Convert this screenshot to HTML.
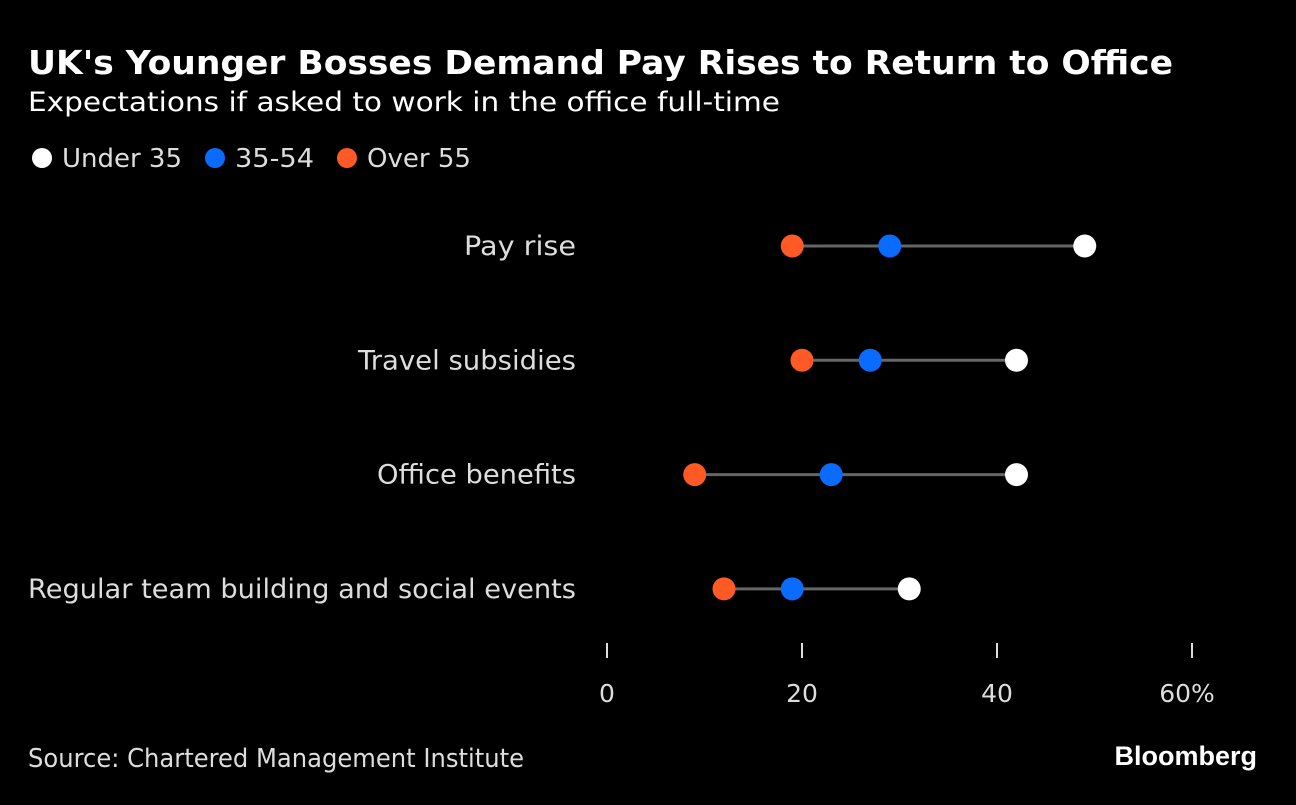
<!DOCTYPE html>
<html><head><meta charset="utf-8"><style>
body{margin:0;background:#000;width:1296px;height:800px;overflow:hidden;}
svg text{font-family:"DejaVu Sans","Liberation Sans",sans-serif;}
</style></head><body>
<svg id="chart" width="1296" height="800">
<text x="28" y="74" fill="#fff" font-size="33" font-weight="bold" textLength="1145" lengthAdjust="spacingAndGlyphs">UK's Younger Bosses Demand Pay Rises to Return to Office</text>
<text x="28" y="111" fill="#fff" font-size="27" textLength="752" lengthAdjust="spacingAndGlyphs">Expectations if asked to work in the office full-time</text>
<g>
<circle cx="42" cy="158" r="10" fill="#fff"/>
<text x="62" y="167" fill="#ddd" font-size="26" textLength="120" lengthAdjust="spacingAndGlyphs">Under 35</text>
<circle cx="215" cy="158" r="10" fill="#0a6cff"/>
<text x="235" y="167" fill="#ddd" font-size="26" textLength="79" lengthAdjust="spacingAndGlyphs">35-54</text>
<circle cx="347" cy="158" r="10" fill="#ff5a26"/>
<text x="367" y="167" fill="#ddd" font-size="26" textLength="104" lengthAdjust="spacingAndGlyphs">Over 55</text>
</g>
<g id="plot"></g>
<text x="28" y="767" fill="#ddd" font-size="26" textLength="496" lengthAdjust="spacingAndGlyphs">Source: Chartered Management Institute</text>
<text x="1257" y="765" fill="#fff" font-size="27" font-weight="bold" text-anchor="end" style="font-family:'Liberation Sans',sans-serif">Bloomberg</text>
</svg>
<script>
const categories=["Pay rise","Travel subsidies","Office benefits","Regular team building and social events"];
const labelWidths=[112,218,199,548];
const under35=[49,42,42,31];
const age35to54=[29,27,23,19];
const over55=[19,20,9,12];
const ticks=[0,20,40,60];
const tickLabels=["0","20","40","60%"];
const ns="http://www.w3.org/2000/svg";
const g=document.getElementById('plot');
const x=v=>607+v*9.75;
const y=i=>246+i*114.3;
function mk(t,a){const e=document.createElementNS(ns,t);for(const k in a)e.setAttribute(k,a[k]);g.appendChild(e);return e;}
categories.forEach((c,i)=>{
 const lab=mk('text',{x:576-labelWidths[i],y:y(i)+9,fill:'#ddd','font-size':27,textLength:labelWidths[i],lengthAdjust:'spacingAndGlyphs'});
 lab.textContent=c;
 
 
 const vals=[under35[i],age35to54[i],over55[i]];
 const ln=mk('line',{x1:x(Math.min(...vals)),x2:x(Math.max(...vals)),y1:y(i),y2:y(i),stroke:'#666','stroke-width':3});
 
 
 [[over55,'#ff5a26','dot-over-55'],[age35to54,'#0a6cff','dot-35-54'],[under35,'#fff','dot-under-35']].forEach(([arr,col,n])=>{
  const d=mk('circle',{cx:x(arr[i]),cy:y(i),r:11.5,fill:col});
  
  
 });
});
ticks.forEach((t,j)=>{
 const tk=mk('line',{x1:x(t),x2:x(t),y1:643,y2:658,stroke:'#ddd','stroke-width':2});
 
 
 const tl=mk('text',{x:x(t)+(j==3?-5:0),y:702,fill:'#ddd','font-size':25,'text-anchor':'middle'});
 tl.textContent=tickLabels[j];
 
 
});
</script>
</body></html>
